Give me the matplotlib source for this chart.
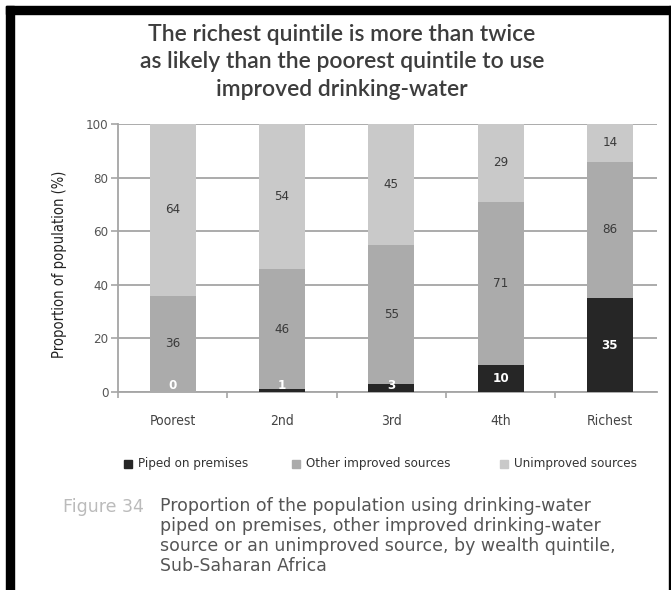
import matplotlib
matplotlib.use("Agg")
import matplotlib.pyplot as plt
from matplotlib.patches import Rectangle
import numpy as np

categories = ["Poorest", "2nd", "3rd", "4th", "Richest"]
piped = [0, 1, 3, 10, 35]
improved_total = [36, 46, 55, 71, 86]
unimproved = [64, 54, 45, 29, 14]
series_names = ["Piped on premises", "Other improved sources", "Unimproved sources"]
yticks = [0, 20, 40, 60, 80, 100]

c_piped = "#262626"
c_other = "#ababab"
c_unimp = "#c9c9c9"
cond = dict(family="DejaVu Sans", stretch="condensed")

W, H = 671, 590
fig = plt.figure(figsize=(W / 100, H / 100), dpi=100)

def fx(px):
    return px / W

def fy(py):
    return 1 - py / H

ax = fig.add_axes([fx(118), fy(392), fx(657) - fx(118), fy(124) - fy(392)])

x = np.arange(len(categories))
other = [t - p for t, p in zip(improved_total, piped)]
width = 0.42
ax.bar(x, piped, width, color=c_piped, zorder=3)
ax.bar(x, other, width, bottom=piped, color=c_other, zorder=3)
ax.bar(x, unimproved, width, bottom=improved_total, color=c_unimp, zorder=3)

for i in range(len(categories)):
    ax.text(x[i], max(piped[i] / 2, 2.3), str(piped[i]), ha="center", va="center",
            color="white", fontsize=9.5, fontweight="bold", zorder=4, **cond)
    ax.text(x[i], piped[i] + other[i] / 2, str(improved_total[i]), ha="center", va="center",
            color="#3a3a3a", fontsize=9.5, zorder=4, **cond)
    ax.text(x[i], improved_total[i] + unimproved[i] / 2, str(unimproved[i]), ha="center",
            va="center", color="#3a3a3a", fontsize=9.5, zorder=4, **cond)

ax.set_xlim(-0.5, 4.43)
ax.set_ylim(0, 100)
ax.set_yticks(yticks)
ax.set_yticklabels([str(v) for v in yticks], fontsize=9.5, color="#555555", **cond)
ax.yaxis.grid(True, color="#a5a5a5", linewidth=1.3, zorder=0)
ax.set_xticks(x)
ax.set_xticklabels(categories, fontsize=10, color="#444444", **cond)
ax.tick_params(axis="x", which="major", length=0, pad=16)
ax.set_xticks(np.arange(-0.5, 4.0, 1.0), minor=True)
ax.tick_params(axis="x", which="minor", length=4, color="#a5a5a5", width=1.2, direction="out")
ax.tick_params(axis="y", length=5, color="#a5a5a5", width=1.2, pad=2)
for s in ["top", "right"]:
    ax.spines[s].set_visible(False)
for s in ["left", "bottom"]:
    ax.spines[s].set_color("#a5a5a5")
    ax.spines[s].set_linewidth(1.3)
ax.set_ylabel("Proportion of population (%)", fontsize=10.5, color="#222222", **cond)
ax.yaxis.set_label_coords(fx(67 - 118) / (fx(657) - fx(118)), (392 - 264) / (392 - 124))

fig.text(fx(342), fy(62), "The richest quintile is more than twice\nas likely than the poorest quintile to use\nimproved drinking-water",
         ha="center", va="center", fontsize=16.5, family=["Lato", "DejaVu Sans"], fontweight="semibold",
         color="#3d3d3d", linespacing=1.36)

# legend
leg_items = [(124, c_piped), (292, c_other), (500, c_unimp)]
for (px, col), name in zip(leg_items, series_names):
    fig.patches.append(Rectangle((fx(px), fy(468)), fx(8), 8 / H, transform=fig.transFigure,
                                 color=col, figure=fig))
    fig.text(fx(px + 14), fy(464), name, ha="left", va="center",
             fontsize=9.5, color="#333333", **cond)

fig.text(fx(63), fy(507), "Figure 34", ha="left", va="center", fontsize=12.5, color="#bbbbbb",
         family=["DejaVu Sans"], fontweight="medium")
fig.text(fx(160), fy(497), "Proportion of the population using drinking-water\npiped on premises, other improved drinking-water\nsource or an unimproved source, by wealth quintile,\nSub-Saharan Africa",
         ha="left", va="top", fontsize=12.5, color="#555555", linespacing=1.14,
         family=["DejaVu Sans"], transform=fig.transFigure)

# frame
fig.patches.append(Rectangle((fx(6), 0), fx(8), fy(6), transform=fig.transFigure, color="black", figure=fig))
fig.patches.append(Rectangle((fx(6), fy(14)), 1, 8 / H, transform=fig.transFigure, color="black", figure=fig))
fig.patches.append(Rectangle((fx(669), 0), fx(2), fy(6), transform=fig.transFigure, color="black", figure=fig))

fig.savefig("out.png", dpi=100)
